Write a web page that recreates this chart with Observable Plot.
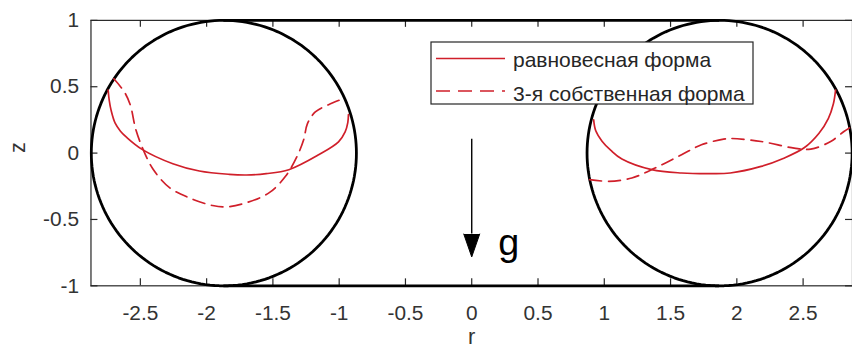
<!DOCTYPE html>
<html><head><meta charset="utf-8">
<script src="https://cdn.jsdelivr.net/npm/d3@7"></script>
<script src="https://cdn.jsdelivr.net/npm/@observablehq/plot@0.6"></script>
<style>
body{margin:0;background:#fff;overflow:hidden;}
#wrap{position:relative;width:852px;height:360px;overflow:hidden;font-family:"Liberation Sans",Arial,sans-serif;}
#wrap svg{display:block;}
#legend{position:absolute;left:0;top:0;}
</style></head><body><div id="wrap"></div>
<script>
// ---- axis ticks ----
const xTicks = [-2.5, -2, -1.5, -1, -0.5, 0, 0.5, 1, 1.5, 2, 2.5];
const yTicks = [-1, -0.5, 0, 0.5, 1];
const xLabel = "r";
const yLabel = "z";
const seriesNames = ["равновесная форма", "3-я собственная форма"];

// ---- geometry: two circular cross-sections joined by walls ----
const circleCenters = [-1.87, 1.87];
const circleRadius = 1;
const wallZ = [1, -1];

// ---- equilibrium shape (solid) ----
const eqLeftR  = [-2.743, -2.735, -2.72, -2.69, -2.65, -2.605, -2.49, -2.255, -2.055, -1.83, -1.70, -1.55, -1.38, -1.155, -1.005, -0.955, -0.935, -0.93];
const eqLeftZ  = [0.475, 0.40, 0.32, 0.225, 0.165, 0.12, 0.03, -0.08, -0.135, -0.16, -0.165, -0.155, -0.125, -0.0125, 0.085, 0.16, 0.23, 0.29];
const eqRightR = [0.92, 0.935, 0.983, 1.05, 1.133, 1.358, 1.583, 1.808, 1.95, 2.183, 2.35, 2.508, 2.62, 2.69, 2.728, 2.745];
const eqRightZ = [0.25, 0.17, 0.09, 0.02, -0.045, -0.125, -0.15, -0.155, -0.15, -0.1, -0.04, 0.04, 0.15, 0.26, 0.37, 0.475];

// ---- 3rd eigen shape (dashed) ----
const m3LeftR  = [-2.70, -2.62, -2.575, -2.535, -2.48, -2.405, -2.28, -2.13, -1.955, -1.85, -1.705, -1.53, -1.405, -1.318, -1.268, -1.24, -1.18, -1.08, -0.97];
const m3LeftZ  = [0.56, 0.46, 0.36, 0.18, 0.03, -0.12, -0.26, -0.3375, -0.395, -0.405, -0.375, -0.3, -0.175, -0.025, 0.1, 0.22, 0.31, 0.365, 0.41];
const m3RightR = [0.89, 1.033, 1.208, 1.383, 1.583, 1.733, 1.90, 1.958, 2.183, 2.433, 2.558, 2.708, 2.808, 2.85];
const m3RightZ = [-0.2, -0.2125, -0.1875, -0.1125, -0.0125, 0.0625, 0.105, 0.11, 0.0875, 0.0375, 0.03, 0.0875, 0.1625, 0.19];

// ---- gravity arrow annotation ----
const gArrow = [{r: 0, zTop: 0.105, zHead: -0.61}];
const gLabel = [{r: 0.2, z: -0.765, t: "g"}];

// ---- build tables ----
const toRows = (rs, zs, side) => rs.map((r, i) => ({r, z: zs[i], side}));
const eqRows = [...toRows(eqLeftR, eqLeftZ, "L"), ...toRows(eqRightR, eqRightZ, "R")];
const m3Rows = [...toRows(m3LeftR, m3LeftZ, "L"), ...toRows(m3RightR, m3RightZ, "R")];
const circleRows = circleCenters.flatMap((c, k) =>
  d3.range(0, 361, 2).map(a => ({c: k, r: c + circleRadius * Math.cos(a * Math.PI / 180), z: circleRadius * Math.sin(a * Math.PI / 180)})));
const wallRows = wallZ.map(z => ({z, r1: circleCenters[0], r2: circleCenters[1]}));

const red = "#d01f2a";
const axisColor = "#262626";
const W = 857, H = 360, mL = 91, mR = 0, mT = 20, mB = 73;
const frameW = W - mL - mR, frameH = H - mT - mB, tick = 7;

const chart = Plot.plot({
  width: W, height: H,
  marginLeft: mL, marginRight: mR, marginTop: mT, marginBottom: mB,
  x: {domain: [-2.8725, 2.8725]},
  y: {domain: [-1, 1]},
  style: {fontFamily: "'Liberation Sans', Arial, sans-serif", fontSize: "21px", color: axisColor, background: "white"},
  marks: [
    Plot.frame({stroke: axisColor, strokeWidth: 1.2}),
    Plot.tickX(xTicks, {x: d => d, insetTop: frameH - tick, stroke: axisColor, strokeWidth: 1.2}),
    Plot.tickX(xTicks, {x: d => d, insetBottom: frameH - tick, stroke: axisColor, strokeWidth: 1.2}),
    Plot.tickY(yTicks, {y: d => d, insetRight: frameW - tick, stroke: axisColor, strokeWidth: 1.2}),
    Plot.tickY(yTicks, {y: d => d, insetLeft: frameW - tick, stroke: axisColor, strokeWidth: 1.2}),
    Plot.axisX(xTicks, {tickSize: 0, tickPadding: 19, tickFormat: d => String(d), label: null, fontSize: 21, fill: "#333"}),
    Plot.axisY(yTicks, {tickSize: 0, tickPadding: 12, tickFormat: d => String(d), label: null, fontSize: 21, fill: "#333"}),
    Plot.text([xLabel], {frameAnchor: "bottom", dy: 59, fontSize: 22, fill: "#333"}),
    Plot.text([yLabel], {frameAnchor: "left", dx: -73, rotate: -90, fontSize: 22, fill: "#333"}),
    Plot.ruleY(wallRows, {y: "z", x1: "r1", x2: "r2", stroke: "black", strokeWidth: 2.8}),
    Plot.line(circleRows, {x: "r", y: "z", z: "c", stroke: "black", strokeWidth: 2.8}),
    Plot.line(eqRows, {x: "r", y: "z", z: "side", stroke: red, strokeWidth: 1.7, curve: "catmull-rom"}),
    Plot.line(m3Rows, {x: "r", y: "z", z: "side", stroke: red, strokeWidth: 1.7, strokeDasharray: "12,7", curve: "catmull-rom"}),
    Plot.ruleX(gArrow, {x: "r", y1: "zTop", y2: "zHead", stroke: "black", strokeWidth: 1.4}),
    Plot.spike(gArrow, {x: "r", y: "zHead", length: 23, r: 8, rotate: 180, fill: "black", fillOpacity: 1, stroke: "black", strokeWidth: 1}),
    Plot.text(gLabel, {x: "r", y: "z", text: "t", fontSize: 38, textAnchor: "start", lineAnchor: "bottom", fill: "black"})
  ]
});
const wrap = document.getElementById("wrap");
wrap.appendChild(chart);

// ---- legend (inside the axes, top right, as in the original) ----
const ns = "http://www.w3.org/2000/svg";
const leg = document.createElementNS(ns, "svg");
leg.setAttribute("id", "legend");
leg.setAttribute("width", 852); leg.setAttribute("height", 360);
leg.innerHTML = `
  <rect x="431" y="42" width="322" height="62" fill="white" stroke="${axisColor}" stroke-width="1.2"/>
  <line x1="436" x2="505" y1="58.5" y2="58.5" stroke="${red}" stroke-width="1.7"/>
  <text x="513" y="67" font-size="21" fill="#262626" font-family="'Liberation Sans', Arial, sans-serif">${seriesNames[0]}</text>
  <line x1="436" x2="505" y1="91" y2="91" stroke="${red}" stroke-width="1.7" stroke-dasharray="14,8"/>
  <text x="513" y="100.5" font-size="21" fill="#262626" font-family="'Liberation Sans', Arial, sans-serif">${seriesNames[1]}</text>`;
wrap.appendChild(leg);
</script></body></html>
